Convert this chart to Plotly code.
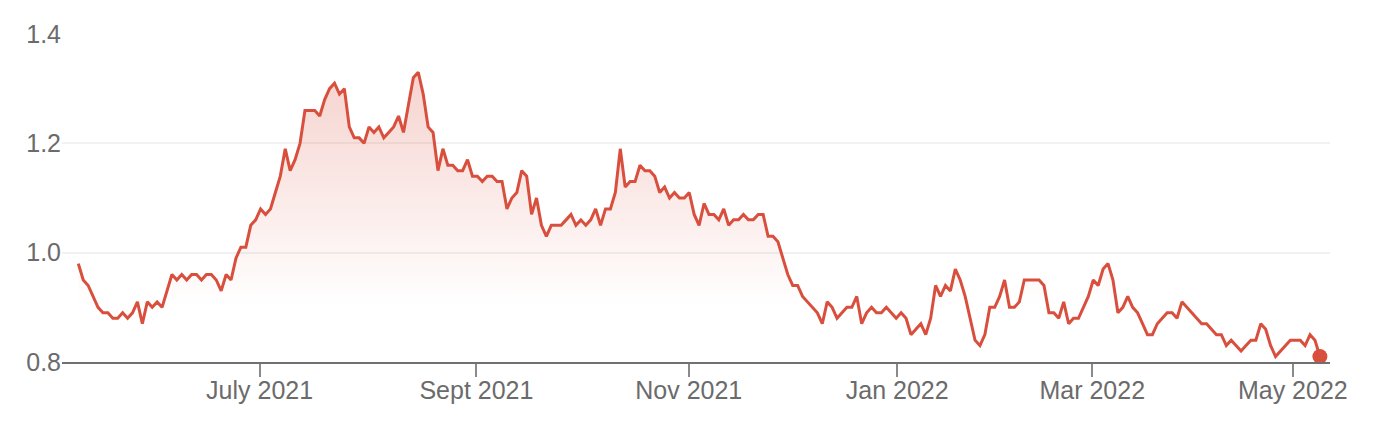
import plotly.graph_objects as go

# Daily closing values (trading days, evenly spaced)
values = [
    0.98, 0.95, 0.94, 0.92, 0.90, 0.89, 0.89, 0.88, 0.88, 0.89,
    0.88, 0.89, 0.91, 0.87, 0.91, 0.90, 0.91, 0.90, 0.93, 0.96,
    0.95, 0.96, 0.95, 0.96, 0.96, 0.95, 0.96, 0.96, 0.95, 0.93,
    0.96, 0.95, 0.99, 1.01, 1.01, 1.05, 1.06, 1.08, 1.07, 1.08,
    1.11, 1.14, 1.19, 1.15, 1.17, 1.20, 1.26, 1.26, 1.26, 1.25,
    1.28, 1.30, 1.31, 1.29, 1.30, 1.23, 1.21, 1.21, 1.20, 1.23,
    1.22, 1.23, 1.21, 1.22, 1.23, 1.25, 1.22, 1.27, 1.32, 1.33,
    1.29, 1.23, 1.22, 1.15, 1.19, 1.16, 1.16, 1.15, 1.15, 1.17,
    1.14, 1.14, 1.13, 1.14, 1.14, 1.13, 1.13, 1.08, 1.10, 1.11,
    1.15, 1.14, 1.07, 1.10, 1.05, 1.03, 1.05, 1.05, 1.05, 1.06,
    1.07, 1.05, 1.06, 1.05, 1.06, 1.08, 1.05, 1.08, 1.08, 1.11,
    1.19, 1.12, 1.13, 1.13, 1.16, 1.15, 1.15, 1.14, 1.11, 1.12,
    1.10, 1.11, 1.10, 1.10, 1.11, 1.07, 1.05, 1.09, 1.07, 1.07,
    1.06, 1.08, 1.05, 1.06, 1.06, 1.07, 1.06, 1.06, 1.07, 1.07,
    1.03, 1.03, 1.02, 0.99, 0.96, 0.94, 0.94, 0.92, 0.91, 0.90,
    0.89, 0.87, 0.91, 0.90, 0.88, 0.89, 0.90, 0.90, 0.92, 0.87,
    0.89, 0.90, 0.89, 0.89, 0.90, 0.89, 0.88, 0.89, 0.88, 0.85,
    0.86, 0.87, 0.85, 0.88, 0.94, 0.92, 0.94, 0.93, 0.97, 0.95,
    0.92, 0.88, 0.84, 0.83, 0.85, 0.90, 0.90, 0.92, 0.95, 0.90,
    0.90, 0.91, 0.95, 0.95, 0.95, 0.95, 0.94, 0.89, 0.89, 0.88,
    0.91, 0.87, 0.88, 0.88, 0.90, 0.92, 0.95, 0.94, 0.97, 0.98,
    0.95, 0.89, 0.90, 0.92, 0.90, 0.89, 0.87, 0.85, 0.85, 0.87,
    0.88, 0.89, 0.89, 0.88, 0.91, 0.90, 0.89, 0.88, 0.87, 0.87,
    0.86, 0.85, 0.85, 0.83, 0.84, 0.83, 0.82, 0.83, 0.84, 0.84,
    0.87, 0.86, 0.83, 0.81, 0.82, 0.83, 0.84, 0.84, 0.84, 0.83,
    0.85, 0.84, 0.81,
]
x_index = list(range(len(values)))

# Month ticks (position on the trading-day axis, label)
tick_positions = [36.8, 80.8, 123.9, 166.2, 205.8, 246.5]
tick_labels = ["July 2021", "Sept 2021", "Nov 2021", "Jan 2022", "Mar 2022", "May 2022"]

y_ticks = [0.8, 1.0, 1.2, 1.4]
y_tick_labels = ["0.8", "1.0", "1.2", "1.4"]

RED = "rgb(217,79,61)"
GREY_TEXT = "#6b6b6b"
FONT = "Liberation Sans, Arial, Helvetica, sans-serif"

fig = go.Figure()
fig.add_trace(go.Scatter(
    x=x_index, y=values, mode="lines",
    line=dict(color=RED, width=3),
    fill="tozeroy",
    fillgradient=dict(
        type="vertical",
        start=0.9, stop=1.33,
        colorscale=[[0, "rgba(217,79,61,0)"], [1, "rgba(217,79,61,0.25)"]],
    ),
    hoverinfo="skip", showlegend=False,
))
fig.add_trace(go.Scatter(
    x=[x_index[-1]], y=[values[-1]], mode="markers",
    marker=dict(color=RED, size=15),
    cliponaxis=False, hoverinfo="skip", showlegend=False,
))

fig.update_layout(
    width=1384, height=440,
    margin=dict(l=62, r=54, t=34, b=78),
    paper_bgcolor="white", plot_bgcolor="white",
    font=dict(family=FONT, size=25, color=GREY_TEXT),
    xaxis=dict(
        range=[-3.31, 254.05],
        tickmode="array", tickvals=tick_positions, ticktext=tick_labels,
        showgrid=False, zeroline=False,
        showline=True, linecolor="#707070", linewidth=2,
        ticks="outside", ticklen=13, tickwidth=2, tickcolor="#8a8a8a",
        ticklabelstandoff=-8,
        tickfont=dict(family=FONT, size=25, color=GREY_TEXT),
    ),
    yaxis=dict(
        range=[0.8, 1.4],
        tickmode="array", tickvals=y_ticks, ticktext=y_tick_labels,
        showgrid=True, gridcolor="#f1f1f1", gridwidth=2,
        zeroline=False, showline=False, ticks="",
        tickfont=dict(family=FONT, size=25, color=GREY_TEXT),
    ),
)

fig.write_html("out.html", config={"displayModeBar": False},
               post_script="document.body.style.margin='0';")
